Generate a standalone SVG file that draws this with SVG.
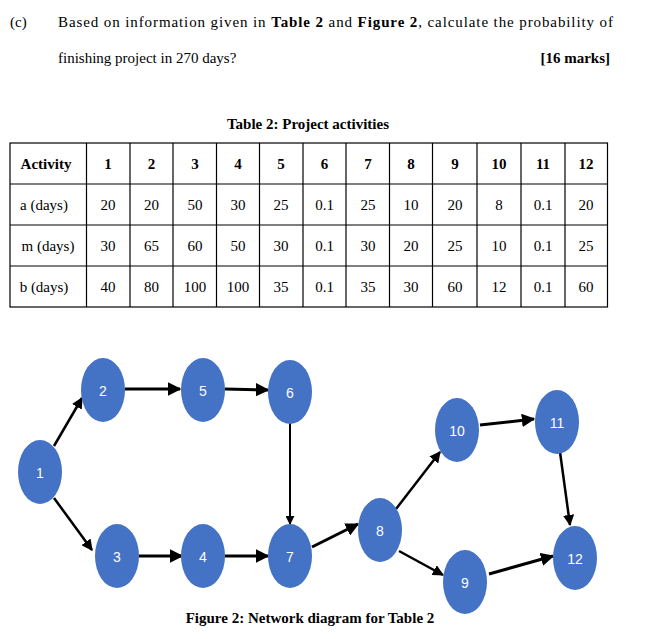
<svg xmlns="http://www.w3.org/2000/svg" width="659" height="639" viewBox="0 0 659 639">
<style>
.t{font-family:"Liberation Serif",serif;font-size:15px;fill:#000}
.b{font-weight:bold}
.c{text-anchor:middle}
.g line{stroke:#000;stroke-width:1.2}
.n ellipse{fill:#4472C4}
.n text{font-family:"Liberation Sans",sans-serif;font-size:14px;fill:#fff;text-anchor:middle}
.e{stroke:#000;stroke-width:3;fill:none;marker-end:url(#a)}
</style>
<defs><marker id="a" viewBox="0 0 10 10" refX="9" refY="5" markerWidth="4.5" markerHeight="4.5" orient="auto" markerUnits="strokeWidth"><path d="M0,0L10,5L0,10z" fill="#000"/></marker></defs>
<text class="t" x="10" y="27">(c)</text>
<text class="t" x="58" y="27" textLength="555" lengthAdjust="spacing">Based on information given in <tspan class="b">Table 2</tspan> and <tspan class="b">Figure 2</tspan>, calculate the probability of</text>
<text class="t" x="58" y="63">finishing project in 270 days?</text>
<text class="t b" x="610" y="63" text-anchor="end">[16 marks]</text>
<text class="t b c" x="308" y="129">Table 2: Project activities</text>
<g class="g">
<rect x="10" y="143" width="597.5" height="164" fill="none" stroke="#000" stroke-width="1.2"/>
<line x1="10" y1="184" x2="607.5" y2="184"/><line x1="10" y1="225" x2="607.5" y2="225"/><line x1="10" y1="266" x2="607.5" y2="266"/>
<line x1="86.5" y1="143" x2="86.5" y2="307"/><line x1="130" y1="143" x2="130" y2="307"/><line x1="173" y1="143" x2="173" y2="307"/><line x1="216.5" y1="143" x2="216.5" y2="307"/><line x1="259.5" y1="143" x2="259.5" y2="307"/><line x1="303" y1="143" x2="303" y2="307"/><line x1="346" y1="143" x2="346" y2="307"/><line x1="389.5" y1="143" x2="389.5" y2="307"/><line x1="432.5" y1="143" x2="432.5" y2="307"/><line x1="477" y1="143" x2="477" y2="307"/><line x1="521" y1="143" x2="521" y2="307"/><line x1="565" y1="143" x2="565" y2="307"/>
</g>
<g class="t c">
<text class="b" x="46" y="169">Activity</text>
<text class="b" x="108" y="169">1</text><text class="b" x="151.5" y="169">2</text><text class="b" x="195" y="169">3</text><text class="b" x="238" y="169">4</text><text class="b" x="281" y="169">5</text><text class="b" x="324.5" y="169">6</text><text class="b" x="368" y="169">7</text><text class="b" x="411" y="169">8</text><text class="b" x="455" y="169">9</text><text class="b" x="499" y="169">10</text><text class="b" x="543" y="169">11</text><text class="b" x="586" y="169">12</text>
<text x="44" y="210">a (days)</text>
<text x="108" y="210">20</text><text x="151.5" y="210">20</text><text x="195" y="210">50</text><text x="238" y="210">30</text><text x="281" y="210">25</text><text x="324.5" y="210">0.1</text><text x="368" y="210">25</text><text x="411" y="210">10</text><text x="455" y="210">20</text><text x="499" y="210">8</text><text x="543" y="210">0.1</text><text x="586" y="210">20</text>
<text x="48" y="251">m (days)</text>
<text x="108" y="251">30</text><text x="151.5" y="251">65</text><text x="195" y="251">60</text><text x="238" y="251">50</text><text x="281" y="251">30</text><text x="324.5" y="251">0.1</text><text x="368" y="251">30</text><text x="411" y="251">20</text><text x="455" y="251">25</text><text x="499" y="251">10</text><text x="543" y="251">0.1</text><text x="586" y="251">25</text>
<text x="44" y="292">b (days)</text>
<text x="108" y="292">40</text><text x="151.5" y="292">80</text><text x="195" y="292">100</text><text x="238" y="292">100</text><text x="281" y="292">35</text><text x="324.5" y="292">0.1</text><text x="368" y="292">35</text><text x="411" y="292">30</text><text x="455" y="292">60</text><text x="499" y="292">12</text><text x="543" y="292">0.1</text><text x="586" y="292">60</text>
</g>
<g id="edges">
<line class="e" x1="54" y1="446" x2="82" y2="398" style="stroke-width:2.5"/>
<line class="e" x1="54" y1="498" x2="92" y2="550" style="stroke-width:2.5"/>
<line class="e" x1="125" y1="389" x2="180" y2="389"/>
<line class="e" x1="225" y1="389" x2="268" y2="390"/>
<line class="e" x1="290" y1="422" x2="290" y2="524" style="stroke-width:2"/>
<line class="e" x1="139" y1="556" x2="182" y2="556"/>
<line class="e" x1="225" y1="556" x2="268" y2="556"/>
<line class="e" x1="312" y1="547" x2="358" y2="524"/>
<line class="e" x1="396" y1="509" x2="440" y2="452" style="stroke-width:2.5"/>
<line class="e" x1="399" y1="551" x2="443" y2="575" style="stroke-width:2.5"/>
<line class="e" x1="480" y1="425" x2="534" y2="419"/>
<line class="e" x1="560" y1="452" x2="570" y2="525" style="stroke-width:2.5"/>
<line class="e" x1="489" y1="574" x2="553" y2="556"/>
</g>
<g id="n1" class="n"><ellipse cx="40" cy="472" rx="22" ry="32"/><text x="40" y="478">1</text></g>
<g id="n2" class="n"><ellipse cx="103" cy="390" rx="22" ry="32"/><text x="103" y="396">2</text></g>
<g id="n5" class="n"><ellipse cx="203" cy="390" rx="22" ry="32"/><text x="203" y="396">5</text></g>
<g id="n6" class="n"><ellipse cx="290" cy="392" rx="22" ry="32"/><text x="290" y="398">6</text></g>
<g id="n3" class="n"><ellipse cx="117" cy="556" rx="22" ry="32"/><text x="117" y="562">3</text></g>
<g id="n4" class="n"><ellipse cx="203" cy="556" rx="22" ry="32"/><text x="203" y="562">4</text></g>
<g id="n7" class="n"><ellipse cx="290" cy="556" rx="22" ry="32"/><text x="290" y="562">7</text></g>
<g id="n8" class="n"><ellipse cx="380" cy="530" rx="22" ry="32"/><text x="380" y="536">8</text></g>
<g id="n10" class="n"><ellipse cx="457" cy="430" rx="22" ry="32"/><text x="457" y="436">10</text></g>
<g id="n11" class="n"><ellipse cx="557" cy="422" rx="22" ry="32"/><text x="557" y="428">11</text></g>
<g id="n9" class="n"><ellipse cx="465" cy="582" rx="22" ry="32"/><text x="465" y="588">9</text></g>
<g id="n12" class="n"><ellipse cx="575" cy="558" rx="22" ry="32"/><text x="575" y="564">12</text></g>
<text class="t b c" x="310" y="623">Figure 2: Network diagram for Table 2</text>
</svg>
